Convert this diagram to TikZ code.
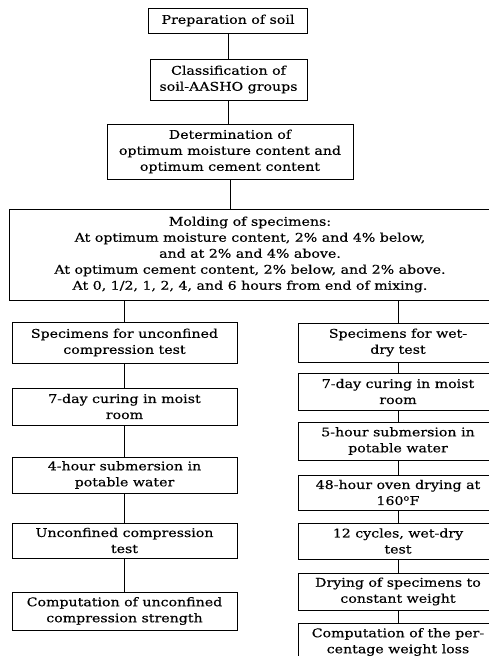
\documentclass[tikz,border=0pt]{standalone}
\usepackage{fontspec}
\setmainfont{DejaVu Serif}[FakeStretch=1.18,FakeBold=0.4]
\usepackage{tikz}
\usetikzlibrary{arrows.meta}

\begin{document}
\begin{tikzpicture}[x=1pt,y=1pt]

      \useasboundingbox (0,0) rectangle (488,-656);

      \begin{scope}[every node/.style={rectangle,draw,line width=1pt,align=center,
          inner sep=1pt,font=\fontsize{12}{16}\selectfont}]
        \node[minimum width=159,minimum height=25] (prep) at (228,-20.5) {Preparation of soil};
        \node[minimum width=157,minimum height=41] (class) at (228.5,-79.5) {Classification of\\soil-AASHO groups};
        \node[minimum width=246,minimum height=55] (determ) at (230,-151.5) {Determination of\\optimum moisture content and\\optimum cement content};
        \node[minimum width=482,minimum height=91] (mold) at (250,-254.5) {Molding of specimens:\\
          At optimum moisture content, 2\% and 4\% below,\\
          and at 2\% and 4\% above.\\
          At optimum cement content, 2\% below, and 2\% above.\\
          At 0, 1/2, 1, 2, 4, and 6 hours from end of mixing.};

        % unconfined compression
        \node[minimum width=225,minimum height=41] (unc1) at (124.5,-342.5) {Specimens for unconfined\\compression test};
        \node[minimum width=225,minimum height=37] (unc2) at (124.5,-406.5) {7-day curing in moist\\room};
        \node[minimum width=225,minimum height=36] (unc3) at (124.5,-475) {4-hour submersion in\\potable water};
        \node[minimum width=225,minimum height=35] (unc4) at (124.5,-540.5) {Unconfined compression\\test};
        \node[minimum width=225,minimum height=38] (unc5) at (124.5,-611) {Computation of unconfined\\compression strength};

        % wet-dry
        \node[minimum width=200,minimum height=39] (wd1) at (398,-342.5) {Specimens for wet-\\dry test};
        \node[minimum width=200,minimum height=37] (wd2) at (398,-391.5) {7-day curing in moist\\room};
        \node[minimum width=200,minimum height=38] (wd3) at (398,-441) {5-hour submersion in\\potable water};
        \node[minimum width=200,minimum height=35] (wd4) at (398,-492.5) {48-hour oven drying at\\160\textsuperscript{o}F};
        \node[minimum width=200,minimum height=36] (wd5) at (398,-541) {12 cycles, wet-dry\\test};
        \node[minimum width=200,minimum height=37] (wd6) at (398,-591.5) {Drying of specimens to\\constant weight};
        \node[minimum width=200,minimum height=38] (wd7) at (398,-642) {Computation of the per-\\centage weight loss};
      \end{scope}

      \begin{scope}[every edge/.style={draw=black,line width=1pt}]
        \path [-] (prep.south) edge (prep.south |- class.north);
        \path [-] (class.south) edge (class.south |- determ.north);
        \path [-] (determ.south) edge (determ.south |- mold.north);
        \path [-] (unc1.north |- mold.south) edge (unc1.north);
        \path [-] (wd1.north |- mold.south) edge (wd1.north);
        \path [-] (unc1) edge (unc2);
        \path [-] (unc2) edge (unc3);
        \path [-] (unc3) edge (unc4);
        \path [-] (unc4) edge (unc5);
        \path [-] (wd1) edge (wd2);
        \path [-] (wd2) edge (wd3);
        \path [-] (wd3) edge (wd4);
        \path [-] (wd4) edge (wd5);
        \path [-] (wd5) edge (wd6);
        \path [-] (wd6) edge (wd7);
      \end{scope}
    \end{tikzpicture}
\end{document}
